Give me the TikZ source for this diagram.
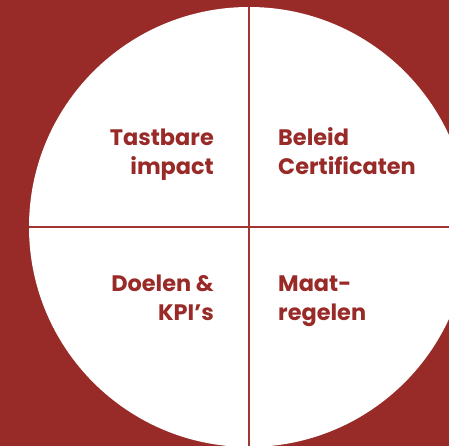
\documentclass[tikz,border=0pt]{standalone}
\usepackage{fontspec}
\setmainfont{Poppins}
\definecolor{bgred}{HTML}{982A27}
\definecolor{linered}{HTML}{A23431}
\begin{document}
\begin{tikzpicture}[x=1pt,y=-1pt,
  lbl/.style={text=bgred,font=\bfseries\fontsize{22.4}{29.5}\selectfont,inner sep=0pt,align=#1},
  divider/.style={draw=linered,line width=2.5pt}]
\useasboundingbox (0,0) rectangle (449,446);
\fill[bgred] (0,0) rectangle (449,446);
\begin{scope}
\clip (0,0) rectangle (449,446);
\node[circle,fill=white,minimum size=440pt,inner sep=0pt] (disc) at (249,227) {};
\coordinate (top) at (249,7);
\coordinate (bot) at (249,446);
\coordinate (lft) at (29,227);
\coordinate (rgt) at (449,227);
\draw[divider] (top) -- (bot);
\draw[divider] (lft) -- (rgt);
\end{scope}
\node[lbl=right,anchor=base east] (q1) at (214,175) {Tastbare\\impact};
\node[lbl=left,anchor=base west] (q2) at (278,175) {Beleid\\Certificaten};
\node[lbl=right,anchor=base east] (q3) at (214,320.5) {Doelen \&\\KPI’s};
\node[lbl=left,anchor=base west] (q4) at (278,320.5) {Maat-\\regelen};
\end{tikzpicture}
\end{document}
